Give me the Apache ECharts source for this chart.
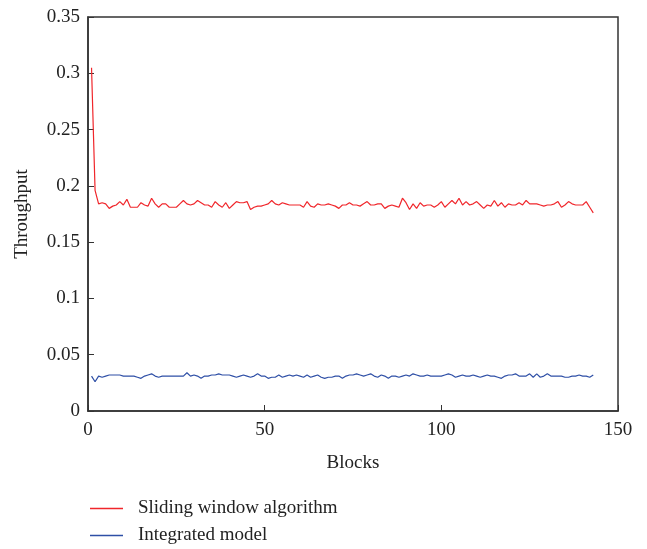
<!DOCTYPE html>
<html>
<head>
<meta charset="utf-8">
<script src="https://cdn.jsdelivr.net/npm/echarts@6/dist/echarts.min.js"></script>
<style>
    html, body {margin: 0; padding: 0; background: #fff;}
    #chart {width: 647px; height: 549px;}
</style>
</head>
<body>
<div id="chart"></div>
<script>
const seriesNames = ["Sliding window algorithm", "Integrated model"];
const xTicks = [0, 50, 100, 150];
const yTicks = [0, 0.05, 0.1, 0.15, 0.2, 0.25, 0.3, 0.35];

const slidingWindow = [
    0.305, 0.196, 0.184, 0.185, 0.184, 0.180, 0.182, 0.183, 0.186, 0.183,
    0.188, 0.181, 0.181, 0.181, 0.185, 0.183, 0.182, 0.189, 0.184, 0.181,
    0.184, 0.184, 0.181, 0.181, 0.181, 0.184, 0.187, 0.184, 0.183, 0.184,
    0.187, 0.185, 0.183, 0.183, 0.181, 0.186, 0.183, 0.181, 0.185, 0.180,
    0.183, 0.186, 0.185, 0.185, 0.186, 0.179, 0.181, 0.182, 0.182, 0.183,
    0.184, 0.187, 0.184, 0.183, 0.185, 0.184, 0.183, 0.183, 0.183, 0.183,
    0.181, 0.186, 0.182, 0.181, 0.184, 0.183, 0.183, 0.184, 0.183, 0.182,
    0.180, 0.183, 0.183, 0.185, 0.183, 0.183, 0.182, 0.184, 0.186, 0.183,
    0.183, 0.184, 0.184, 0.180, 0.182, 0.183, 0.182, 0.181, 0.189, 0.185,
    0.179, 0.184, 0.180, 0.185, 0.182, 0.183, 0.183, 0.181, 0.183, 0.186,
    0.181, 0.184, 0.187, 0.184, 0.189, 0.183, 0.186, 0.183, 0.184, 0.186,
    0.183, 0.180, 0.183, 0.182, 0.187, 0.182, 0.185, 0.181, 0.184, 0.183,
    0.183, 0.185, 0.183, 0.187, 0.184, 0.184, 0.184, 0.183, 0.182, 0.183,
    0.183, 0.184, 0.186, 0.181, 0.183, 0.186, 0.184, 0.183, 0.183, 0.183,
    0.186, 0.181, 0.176
];

const integratedModel = [
    0.031, 0.026, 0.031, 0.030, 0.031, 0.032, 0.032, 0.032, 0.032, 0.031,
    0.031, 0.031, 0.031, 0.030, 0.029, 0.031, 0.032, 0.033, 0.031, 0.030,
    0.031, 0.031, 0.031, 0.031, 0.031, 0.031, 0.031, 0.034, 0.031, 0.032,
    0.031, 0.029, 0.031, 0.031, 0.032, 0.032, 0.033, 0.032, 0.032, 0.032,
    0.031, 0.030, 0.031, 0.032, 0.031, 0.030, 0.031, 0.033, 0.031, 0.031,
    0.029, 0.030, 0.030, 0.032, 0.030, 0.031, 0.032, 0.031, 0.032, 0.031,
    0.030, 0.032, 0.030, 0.031, 0.032, 0.030, 0.029, 0.030, 0.030, 0.031,
    0.031, 0.029, 0.031, 0.032, 0.032, 0.033, 0.032, 0.031, 0.032, 0.033,
    0.031, 0.030, 0.032, 0.031, 0.029, 0.031, 0.031, 0.030, 0.031, 0.032,
    0.031, 0.033, 0.032, 0.031, 0.031, 0.032, 0.031, 0.031, 0.031, 0.031,
    0.032, 0.033, 0.032, 0.030, 0.031, 0.032, 0.031, 0.031, 0.032, 0.031,
    0.030, 0.031, 0.032, 0.031, 0.031, 0.030, 0.029, 0.031, 0.032, 0.032,
    0.033, 0.031, 0.031, 0.031, 0.033, 0.030, 0.033, 0.030, 0.031, 0.033,
    0.031, 0.031, 0.031, 0.031, 0.030, 0.030, 0.031, 0.031, 0.032, 0.031,
    0.031, 0.030, 0.032
];

const blocks = slidingWindow.map((v, i) => i + 1);

const font = "'Liberation Serif', 'DejaVu Serif', serif";
const fontSize = 19;
const axisColor = '#333';
const textColor = '#222';
const red = '#f0262b';
const blue = '#2e4fa6';

function toPairs(values) {
    return values.map((v, i) => [blocks[i], v]);
}

function fmtY(v) {
    return String(Math.round(v * 100) / 100);
}

const chart = echarts.init(document.getElementById('chart'));

const option = {
    animation: false,
    backgroundColor: '#fff',
    grid: {
        left: 88, right: 29, top: 17, bottom: 138,
        show: true, borderColor: axisColor, borderWidth: 1.5, backgroundColor: 'transparent'
    },
    legend: {
        show: true,
        orient: 'vertical',
        left: 90,
        top: 499,
        padding: 0,
        icon: 'rect',
        itemWidth: 33,
        itemHeight: 1.3,
        itemGap: 8,
        textStyle: {fontFamily: font, fontSize: fontSize, color: textColor, padding: [0, 0, 0, 10]},
        data: seriesNames
    },
    xAxis: {
        type: 'value', min: xTicks[0], max: xTicks[xTicks.length - 1], interval: 50,
        name: 'Blocks', nameLocation: 'middle', nameGap: 43,
        nameTextStyle: {fontFamily: font, fontSize: fontSize, color: textColor},
        axisLine: {lineStyle: {color: axisColor, width: 1.5}},
        axisTick: {inside: true, length: 6, lineStyle: {color: axisColor}},
        axisLabel: {fontFamily: font, fontSize: fontSize, color: textColor, margin: 10},
        splitLine: {show: false}
    },
    yAxis: {
        type: 'value', min: yTicks[0], max: yTicks[yTicks.length - 1], interval: 0.05,
        name: 'Throughput', nameLocation: 'middle', nameGap: 56,
        nameTextStyle: {fontFamily: font, fontSize: fontSize, color: textColor},
        axisLine: {show: true, lineStyle: {color: axisColor, width: 1.5}},
        axisTick: {show: true, inside: true, length: 6, lineStyle: {color: axisColor}},
        axisLabel: {fontFamily: font, fontSize: fontSize, color: textColor, margin: 8, formatter: fmtY},
        splitLine: {show: false}
    },
    series: [
        {
            name: seriesNames[0], type: 'line', data: toPairs(slidingWindow),
            symbol: 'none',
            lineStyle: {color: red, width: 1.2},
            itemStyle: {color: red}
        },
        {
            name: seriesNames[1], type: 'line', data: toPairs(integratedModel),
            symbol: 'none',
            lineStyle: {color: blue, width: 1.2},
            itemStyle: {color: blue}
        }
    ]
};

chart.setOption(option);
</script>
</body>
</html>
